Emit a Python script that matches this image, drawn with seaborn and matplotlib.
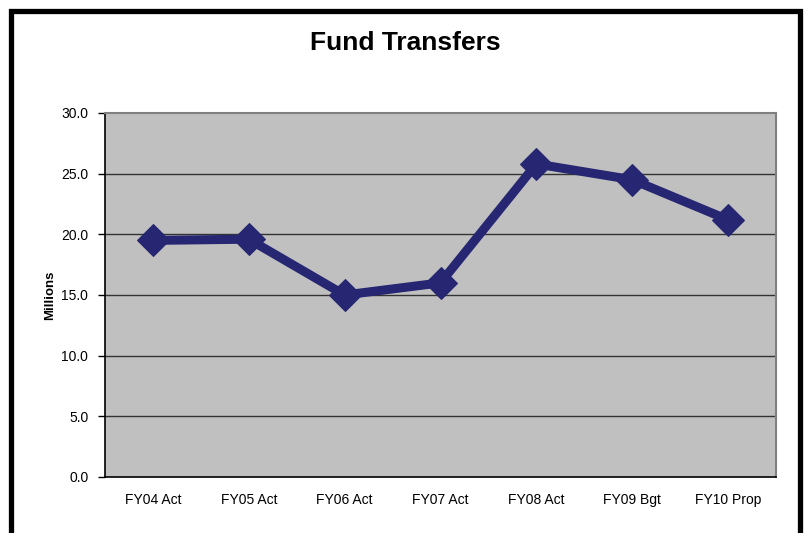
import numpy as np
import pandas as pd
import matplotlib
matplotlib.use("Agg")
import matplotlib.pyplot as plt
import seaborn as sns
from matplotlib.patches import Rectangle

categories = ["FY04 Act", "FY05 Act", "FY06 Act", "FY07 Act", "FY08 Act", "FY09 Bgt", "FY10 Prop"]
transfers = [19.5, 19.6, 15.0, 16.0, 25.8, 24.5, 21.2]
y_ticks = [0, 5, 10, 15, 20, 25, 30]

df = pd.DataFrame({"year": categories, "millions": transfers})

sns.set_style("white")
plt.rcParams["font.family"] = ["Liberation Sans", "DejaVu Sans"]
plt.rcParams["text.color"] = "black"
plt.rcParams["xtick.color"] = "black"
plt.rcParams["ytick.color"] = "black"
plt.rcParams["axes.labelcolor"] = "black"

fig = plt.figure(figsize=(8.05, 5.33), dpi=100)
ax = fig.add_axes([105 / 805, 56 / 533, 671 / 805, 364 / 533])
ax.set_facecolor("#C0C0C0")

line_color = "#262672"
sns.lineplot(data=df, x="year", y="millions", ax=ax, sort=False,
             color=line_color, linewidth=6.5, marker="D", markersize=16,
             markeredgecolor=line_color, markerfacecolor=line_color)

ax.set_xlim(-0.5, len(categories) - 0.5)
ax.set_ylim(0, 30)
ax.set_yticks(y_ticks)
ax.set_yticklabels([f"{v:.1f}" for v in y_ticks])
ax.set_xticks(range(len(categories)))
ax.set_xticklabels(categories)
ax.set_xticks(np.arange(-0.5, len(categories)), minor=True)
ax.tick_params(axis="x", which="major", length=0, pad=13, labelsize=10)
ax.tick_params(axis="x", which="minor", length=5, width=1, color="black", direction="out")
ax.tick_params(axis="y", length=5, width=1, color="black", direction="out", left=True, pad=7, labelsize=10)
for lbl in ax.get_xticklabels():
    lbl.set_verticalalignment("baseline")
    lbl.set_y(-0.024)

for y in y_ticks[1:-1]:
    ax.axhline(y, color="#333333", linewidth=1, zorder=1)

for side in ["left", "bottom"]:
    ax.spines[side].set_color("black")
    ax.spines[side].set_linewidth(1.2)
for side in ["top", "right"]:
    ax.spines[side].set_visible(True)
    ax.spines[side].set_color("#808080")
    ax.spines[side].set_linewidth(1.5)

ax.set_xlabel("")
ax.set_ylabel("Millions", fontsize=9.5, fontweight="bold", labelpad=4)

fig.text(405 / 805, 1 - 43 / 533, "Fund Transfers", ha="center", va="center",
         fontsize=19, fontweight="bold")

fig.patches.append(Rectangle((11 / 805, -0.05), (800 - 11) / 805, (533 - 11) / 533 + 0.05,
                             transform=fig.transFigure, fill=False,
                             edgecolor="black", linewidth=3.8))

fig.savefig("out.png", dpi=100, facecolor="white")
